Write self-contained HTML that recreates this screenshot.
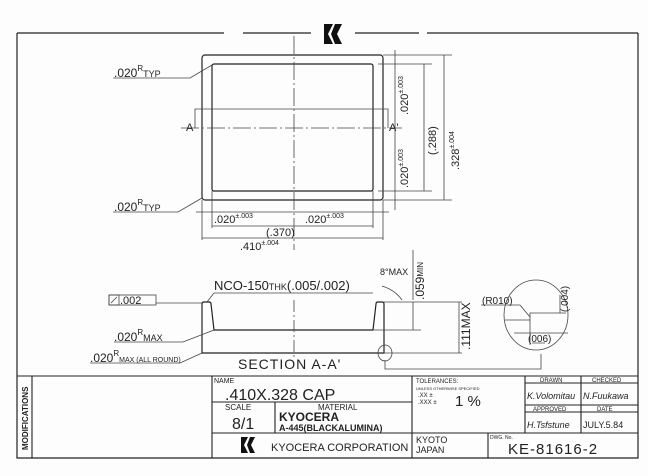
<!DOCTYPE html>
<html><head><meta charset="utf-8"><style>
html,body{margin:0;padding:0;background:#fff;}
svg{display:block}
text{font-family:"Liberation Sans",sans-serif;fill:#222}
</style></head><body>
<svg width="648" height="476" viewBox="0 0 648 476" xmlns="http://www.w3.org/2000/svg">
<rect width="648" height="476" fill="#fdfdfd"/>
<g stroke="#222" fill="none" stroke-width="1.2">
<path d="M17 33 H224 M243 33 H311 M355 33 H419 M427 33 H638 M17 33 V458 H638 V33"/>
<rect x="202" y="55" width="181" height="145" rx="3"/>
<rect x="212" y="64" width="161" height="127" rx="2"/>
</g>
<g fill="#111"><path d="M324 24 L333 24 L328 34 L333 44 L324 44 Z"/><path d="M335 24 L342 24 L337 34 L342 44 L335 44 L331 34 Z"/></g>
<g stroke="#444" fill="none" stroke-width="0.8">
<path d="M294 36 V250" stroke-dasharray="18 3 2 3"/>
<path d="M181 128 H402" stroke-dasharray="18 3 2 3"/>
<path d="M195 128 V109 H388 V128"/>
<path d="M383 55 H452 M378 64 H432 M378 191 H432 M383 200 H452"/>
<path d="M395 50 V210 M424 64 V191 M444 55 V200"/>
<path d="M202 200 V240 M383 200 V240 M212 191 V228 M373 191 V228"/>
<path d="M196 212 H389 M212 226 H373 M202 238 H383"/>
<path d="M113 78 H190 L212 65"/>
<path d="M113 212 H178 L202 198"/>
</g>
<g font-size="12">
<text x="114" y="77">.020<tspan font-size="8" dy="-6">R</tspan><tspan font-size="9" dy="6">TYP</tspan></text>
<text x="114" y="211">.020<tspan font-size="8" dy="-6">R</tspan><tspan font-size="9" dy="6">TYP</tspan></text>
<text x="186" y="131" font-size="11">A</text>
<text x="389" y="131" font-size="11">A'</text>
<text x="214" y="223" font-size="11">.020<tspan font-size="7" dy="-5">±.003</tspan></text>
<text x="305" y="223" font-size="11">.020<tspan font-size="7" dy="-5">±.003</tspan></text>
<text x="266" y="236" font-size="11">(.370)</text>
<text x="240" y="250" font-size="11">.410<tspan font-size="7" dy="-5">±.004</tspan></text>
<text transform="translate(408,115) rotate(-90)" font-size="11">.020<tspan font-size="7" dy="-5">±.003</tspan></text>
<text transform="translate(408,188) rotate(-90)" font-size="11">.020<tspan font-size="7" dy="-5">±.003</tspan></text>
<text transform="translate(436,155) rotate(-90)" font-size="11">(.288)</text>
<text transform="translate(459,170) rotate(-90)" font-size="11">.328<tspan font-size="7" dy="-5">±.004</tspan></text>
</g>
<g stroke="#222" fill="none" stroke-width="1.2">
<path d="M202 353 V304 Q202 302 204 302 H209 Q211 302 211 304 L214 330 H373 L376 304 Q376 302 378 302 H382 Q384 302 384 304 V353 H202 Z"/>
</g>
<g stroke="#444" fill="none" stroke-width="0.8">
<path d="M294 300 V358" stroke-dasharray="12 3 2 3"/>
<path d="M156 303 H202 M384 302 H462 M373 330 H421 M384 353 H462"/>
<path d="M413 302 V330 M459 302 V353 M413 300 V250"/>
<path d="M214 293 H373 M214 293 L207 302"/>
<path d="M114 342 H183 L214 330"/>
<path d="M90 363 H180 L202 353"/>
<path d="M385 360 V369 H541 V354"/>
<path d="M382 286 Q395 290 402 300"/>
<ellipse cx="385" cy="353" rx="7" ry="8"/>
<rect x="109" y="295" width="10" height="10"/>
<rect x="109" y="295" width="47" height="10"/>
<path d="M111 303 L117 297"/>
<ellipse cx="536" cy="315" rx="32" ry="35"/>
<path d="M505 320 H530 V313 H566 M530 320 V345 M520 305 H481 M520 305 L530 317 M560 295 V313 M514 333 H568 M532 343 H545"/>
</g>
<g font-size="12">
<text x="120" y="304" font-size="11">.002</text>
<text x="214" y="290" font-size="13">NCO-150<tspan font-size="9">THK</tspan>(.005/.002)</text>
<text x="380" y="275" font-size="9">8°MAX</text>
<text transform="translate(424,300) rotate(-90)" font-size="12">.059<tspan font-size="8" dy="-1">MIN</tspan></text>
<text transform="translate(470,350) rotate(-90)" font-size="12">.111MAX</text>
<text x="114" y="341">.020<tspan font-size="8" dy="-6">R</tspan><tspan font-size="9" dy="6">MAX</tspan></text>
<text x="90" y="362">.020<tspan font-size="8" dy="-6">R</tspan><tspan font-size="7" dy="6">MAX (ALL ROUND)</tspan></text>
<text x="238" y="369" font-size="14" letter-spacing="1">SECTION A-A'</text>
<text x="482" y="304" font-size="10">(R010)</text>
<text transform="translate(568,312) rotate(-90)" font-size="10">(.004)</text>
<text x="528" y="342" font-size="10">(006)</text>
</g>
<g stroke="#222" fill="none" stroke-width="1.1">
<path d="M17 376 H638 M32 376 V458 M212 376 V458 M412 376 V458 M525 376 V433 M488 433 V458 M212 402 H412 M212 433 H638 M275 402 V433 M525 383 H638 M525 405 H638 M525 412 H638 M581 376 V433"/>
</g>
<text transform="translate(28,450) rotate(-90)" font-family="Liberation Serif,serif" font-size="8" font-weight="bold">MODIFICATIONS</text>
<g font-family="Liberation Serif,serif">
<text x="214" y="383" font-size="7">NAME</text>
<text x="225" y="400" font-size="16" font-family="Liberation Sans,sans-serif">.410X.328 CAP</text>
<text x="225" y="410" font-size="8">SCALE</text>
<text x="318" y="410" font-size="8">MATERIAL</text>
<text x="232" y="429" font-size="16" font-family="Liberation Sans,sans-serif">8/1</text>
<text x="279" y="421" font-size="12" font-weight="bold">KYOCERA</text>
<text x="279" y="431" font-size="9" font-weight="bold">A-445(BLACKALUMINA)</text>
<text x="416" y="383" font-size="6">TOLERANCES:</text>
<text x="416" y="390" font-size="4">UNLESS OTHERWISE SPECIFIED</text>
<text x="418" y="397" font-size="6">.XX ±</text>
<text x="418" y="404" font-size="6">.XXX ±</text>
<text x="455" y="406" font-size="15" font-family="Liberation Sans,sans-serif">1 %</text>
<text x="540" y="382" font-size="6">DRAWN</text>
<text x="592" y="382" font-size="6">CHECKED</text>
<text x="527" y="399" font-size="9" font-style="italic">K.Volomitau</text>
<text x="583" y="399" font-size="9" font-style="italic">N.Fuukawa</text>
<text x="533" y="411" font-size="6">APPROVED</text>
<text x="597" y="411" font-size="6">DATE</text>
<text x="527" y="428" font-size="9" font-style="italic">H.Tsfstune</text>
<text x="583" y="428" font-size="9" font-family="Liberation Sans,sans-serif">JULY.5.84</text>
<text x="490" y="439" font-size="5">DWG. No.</text>
</g>
<g fill="#111"><path d="M241 437 L248 437 L244 445 L248 453 L241 453 Z"/><path d="M250 437 L255 437 L251 445 L255 453 L250 453 L247 445 Z"/></g>
<text x="271" y="451" font-size="11">KYOCERA CORPORATION</text>
<text x="416" y="443" font-size="9">KYOTO</text>
<text x="416" y="453" font-size="9">JAPAN</text>
<text x="508" y="454" font-size="15" letter-spacing="1">KE-81616-2</text>
</svg>
</body></html>
